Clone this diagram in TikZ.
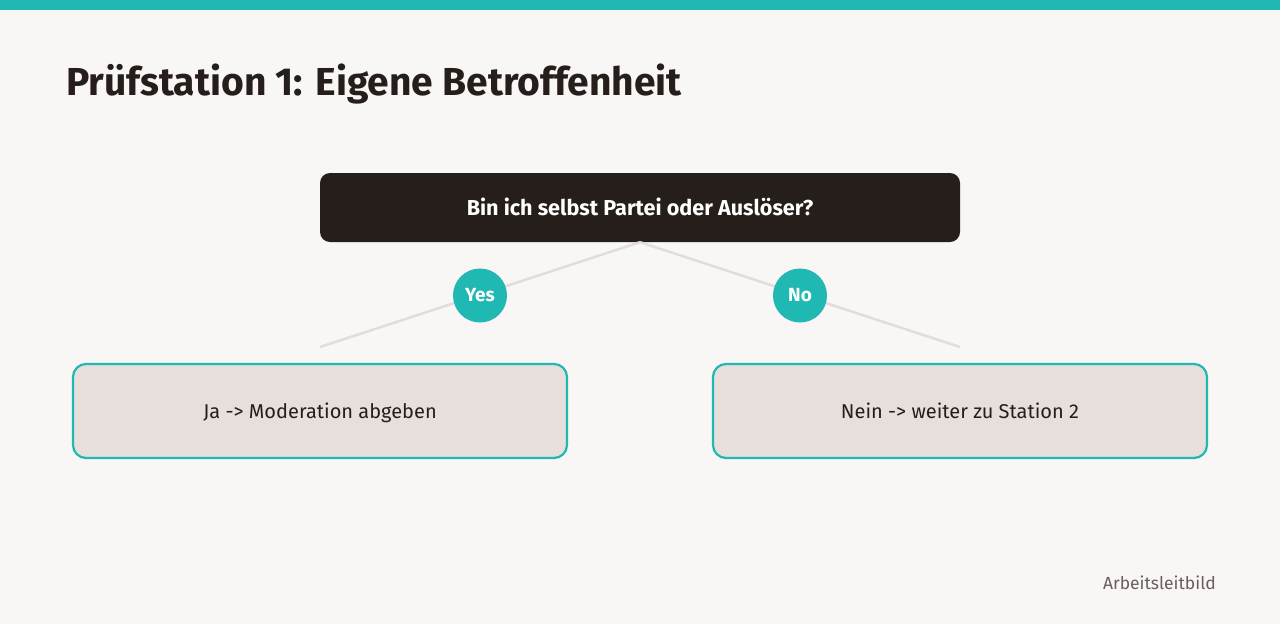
\documentclass[tikz,border=0pt]{standalone}
\usepackage{fontspec}
\setmainfont{Fira Sans}
\definecolor{bg}{HTML}{F8F7F5}
\definecolor{teal}{HTML}{20B8B2}
\definecolor{dark}{HTML}{261E1A}
\definecolor{linec}{HTML}{E2DDD9}
\definecolor{boxfill}{HTML}{E7DFDC}
\definecolor{foot}{HTML}{6A5F5A}
\begin{document}
\begin{tikzpicture}[x=1pt,y=-1pt,
  question/.style={draw=none,fill=dark,rounded corners=10pt,minimum width=640pt,minimum height=69pt,text=white,font=\fontsize{21.6}{25}\selectfont\bfseries,inner sep=0pt,text height=17pt,text depth=1pt},
  answer/.style={draw=teal,line width=2.2pt,fill=boxfill,rounded corners=13pt,minimum width=494pt,minimum height=94pt,text=dark,font=\fontsize{20}{24}\selectfont,inner sep=0pt,text height=16pt,text depth=2pt},
  badge/.style={circle,fill=teal,minimum size=54pt,inner sep=0pt,text=white,font=\fontsize{19}{23}\selectfont\bfseries},
  conn/.style={draw=linec,line width=2.5pt}]
\useasboundingbox (0,0) rectangle (1280,624);
\fill[bg] (0,0) rectangle (1280,624);
\fill[teal] (0,0) rectangle (1280,10);
\node[anchor=base west,inner sep=0pt,text=dark,font=\fontsize{39}{47}\selectfont\bfseries] (title) at (66,95) {Prüfstation 1: Eigene Betroffenheit};
\node[question] (q) at (640,207.5) {Bin ich selbst Partei oder Auslöser?};
\coordinate (le) at (320,347);
\coordinate (re) at (960,347);
\draw[conn] (q.south) -- (le);
\draw[conn] (q.south) -- (re);
\node[badge] (yes) at (480,295.5) {Yes};
\node[badge] (no) at (800,295.5) {No};
\node[answer] (a) at (320,411) {Ja -> Moderation abgeben};
\node[answer] (b) at (960,411) {Nein -> weiter zu Station 2};
\node[anchor=base east,inner sep=0pt,text=foot,font=\fontsize{17.5}{20}\selectfont] (footer) at (1216,589) {Arbeitsleitbild};
\end{tikzpicture}
\end{document}
